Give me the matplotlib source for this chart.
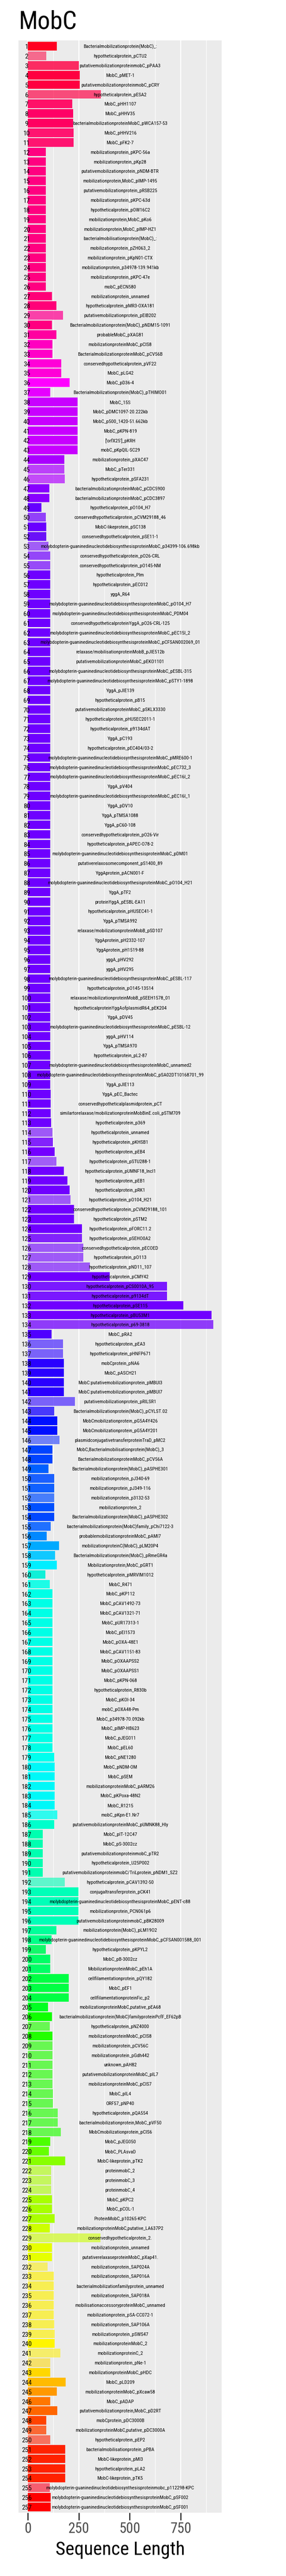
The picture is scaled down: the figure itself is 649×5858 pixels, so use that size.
import matplotlib
matplotlib.use('Agg')
import matplotlib.pyplot as plt
from matplotlib.colors import to_rgba
from matplotlib.font_manager import FontProperties

# tall, narrow sans like the reference
fam = 'Roboto Condensed'
plt.rcParams['font.family'] = [fam, 'DejaVu Sans']

# protein names, top to bottom
proteins = [
    "Bacterialmobilizationprotein(MobC)_:", "hypotheticalprotein_pCTU2",
    "putativemobilizationproteinmobC_pPAA3", "MobC_pMET-1",
    "putativemobilizationproteinmobC_pCRY", "hypotheticalprotein_pESA2",
    "MobC_pHH1107", "MobC_pHHV35", "bacterialmobilizationproteinMobC_pWCA157-53",
    "MobC_pHHV216", "MobC_pFK2-7", "mobilizationprotein_pKPC-56a",
    "mobilizationprotein_pKp28", "putativemobilizationprotein_pNDM-BTR",
    "mobilizationprotein,MobC_pIMP-1495", "putativemobilizationprotein_pRSB225",
    "mobilizationprotein_pKPC-63d", "hypotheticalprotein_pOW16C2",
    "mobilizationprotein,MobC_pKo6", "mobilizationprotein,MobC_pIMP-HZ1",
    "bacterialmobilisationprotein(MobC)_:", "mobilizationprotein_pZH063_2",
    "mobilizationprotein_pKpN01-CTX", "mobilizationprotein_p34978-139.941kb",
    "mobilizationprotein_pKPC-47e", "mobC_pECN580", "mobilizationprotein_unnamed",
    "hypotheticalprotein_pMR3-OXA181", "putativemobilizationprotein_pEIB202",
    "Bacterialmobilizationprotein(MobC)_pNDM15-1091", "probableMobC_pXAG81",
    "mobilizationproteinMobC_pCIS8", "BacterialmobilizationproteinMobC_pCV56B",
    "conservedhypotheticalprotein_pVF22", "MobC_pLG42", "MobC_pD36-4",
    "Bacterialmobilizationprotein(MobC)_pTHIMO01", "MobC_15S",
    "MobC_pDMC1097-20.222kb", "MobC_p500_1420-51.662kb", "MobC_pKPN-819",
    "['orfX25']_pKRH", "mobC_pKpQIL-SC29", "mobilizationprotein_pXAC47",
    "MobC_pTer331", "hypotheticalprotein_pSFA231",
    "bacterialmobilizationproteinMobC_pCDC5900",
    "bacterialmobilizationproteinMobC_pCDC3897", "hypotheticalprotein_pO104_H7",
    "conservedhypotheticalprotein_pCVM29188_46", "MobC-likeprotein_pSC138",
    "conservedhypotheticalprotein_pSE11-1",
    "molybdopterin-guaninedinucleotidebiosynthesisproteinMobC_p34399-106.698kb",
    "conservedhypotheticalprotein_pO26-CRL", "conservedhypotheticalprotein_pO145-NM",
    "hypotheticalprotein_Plm", "hypotheticalprotein_pEC012", "yggA_R64",
    "molybdopterin-guaninedinucleotidebiosynthesisproteinMobC_pO104_H7",
    "molybdopterin-guaninedinucleotidebiosynthesisproteinMobC_PDM04",
    "conservedhypotheticalproteinYggA_pO26-CRL-125",
    "molybdopterin-guaninedinucleotidebiosynthesisproteinMobC_pEC15I_2",
    "molybdopterin-guaninedinucleotidebiosynthesisproteinMobC_pCFSAN002069_01",
    "relaxase/mobilisationproteinMobB_pJIE512b",
    "putativemobilizationproteinMobC_pEKO1101",
    "molybdopterin-guaninedinucleotidebiosynthesisproteinMobC_pESBL-315",
    "molybdopterin-guaninedinucleotidebiosynthesisproteinMobC_pSTY1-1898",
    "YggA_pJIE139", "hypotheticalprotein_pB15",
    "putativemobilizationproteinMobC_pSKLX3330", "hypotheticalprotein_pHUSEC2011-1",
    "hypotheticalprotein_p9134dAT", "YggA_pC193", "hypotheticalprotein_pEC404/03-2",
    "molybdopterin-guaninedinucleotidebiosynthesisproteinMobC_pMRE600-1",
    "molybdopterin-guaninedinucleotidebiosynthesisproteinMobC_pEC732_3",
    "molybdopterin-guaninedinucleotidebiosynthesisproteinMobC_pEC16I_2",
    "YggA_pV404",
    "molybdopterin-guaninedinucleotidebiosynthesisproteinMobC_pEC16I_1",
    "YggA_pDV10", "YggA_pTMSA1088", "YggA_pC60-108",
    "conservedhypotheticalprotein_pO26-Vir", "hypotheticalprotein_pAPEC-O78-2",
    "molybdopterin-guaninedinucleotidebiosynthesisproteinMobC_pDM01",
    "putativerelaxosomecomponent_pS1400_89", "YggAprotein_pACN001-F",
    "molybdopterin-guaninedinucleotidebiosynthesisproteinMobC_pO104_H21",
    "YggA_pTF2", "proteinYggA_pESBL-EA11", "hypotheticalprotein_pHUSEC41-1",
    "YggA_pTMSA992", "relaxase/mobilizationproteinMobB_pSD107",
    "YggAprotein_pH2332-107", "YggAprotein_pH1519-88", "yggA_pHV292", "yggA_pHV295",
    "molybdopterin-guaninedinucleotidebiosynthesisproteinMobC_pESBL-117",
    "hypotheticalprotein_pO145-13514", "relaxase/mobilizationproteinMobB_pSEEH1578_01",
    "hypotheticalproteinYggAofplasmidR64_pEK204", "YggA_pDV45",
    "molybdopterin-guaninedinucleotidebiosynthesisproteinMobC_pESBL-12",
    "yggA_pHV114", "YggA_pTMSA970", "hypotheticalprotein_pL2-87",
    "molybdopterin-guaninedinucleotidebiosynthesisproteinMobC_unnamed2",
    "molybdopterin-guaninedinucleotidebiosynthesisproteinMobC_pSA02DT10168701_99",
    "YggA_pJIE113", "YggA_pEC_Bactec", "conservedhypotheticalplasmidprotein_pCT",
    "similartorelaxase/mobilizationproteinMobBinE.coli_pSTM709",
    "hypotheticalprotein_p369", "hypotheticalprotein_unnamed",
    "hypotheticalprotein_pKHSB1", "hypotheticalprotein_pEB4",
    "hypotheticalprotein_pSTU288-1", "hypotheticalprotein_pUMNF18_IncI1",
    "hypotheticalprotein_pEB1", "hypotheticalprotein_pRK1",
    "hypotheticalprotein_pO104_H21", "conservedhypotheticalprotein_pCVM29188_101",
    "hypotheticalprotein_pSTM2", "hypotheticalprotein_pFORC11.2",
    "hypotheticalprotein_pSEHO0A2", "conservedhypotheticalprotein_pECOED",
    "hypotheticalprotein_pO113", "hypotheticalprotein_pND11_107",
    "hypotheticalprotein_pCMY42", "hypotheticalprotein_pCS0010A_95",
    "hypotheticalprotein_p9134dT", "hypotheticalprotein_pSE115",
    "hypotheticalprotein_pBU53M1", "hypotheticalprotein_p69-3818", "MobC_pRA2",
    "hypotheticalprotein_pEA3", "hypotheticalprotein_pHNFP671", "mobCprotein_pNA6",
    "MobC_pASCH21", "MobC:putativemobilizationprotein_pMBUI3",
    "MobC:putativemobilizationprotein_pMBUI7", "putativemobilizationprotein_pRILSR1",
    "Bacterialmobilizationprotein(MobC)_pCYLST.02",
    "MobCmobilizationprotein_pG5A4Y426", "MobCmobilizationprotein_pG5A4Y201",
    "plasmidconjugativetransferproteinTraD_pMC2",
    "MobC,Bacterialmobilisationprotein(MobC)_3",
    "BacterialmobilizationproteinMobC_pCV56A",
    "Bacterialmobilizationprotein(MobC)_pASPHE301", "mobilizationprotein_pJ340-69",
    "mobilizationprotein_pJ349-116", "mobilizationprotein_p3132-53",
    "mobilizationprotein_2", "Bacterialmobilizationprotein(MobC)_pASPHE302",
    "bacterialmobilizationprotein(MobC)family_pChi7122-3",
    "probablemobilizationproteinMobC_pAMI7", "mobilizationproteinC(MobC)_pLM20P4",
    "Bacterialmobilizationprotein(MobC)_pRmeGR4a", "Mobilizationprotein,MobC_pGRT1",
    "hypotheticalprotein_pMRVIM1012", "MobC_R471", "MobC_pKP112",
    "MobC_pCAV1492-73", "MobC_pCAV1321-71", "MobC_pUR17313-1", "MobC_pEI1573",
    "MobC_pOXA-48E1", "MobC_pCAV1151-83", "MobC_pOXAAPSS2", "MobC_pOXAAPSS1",
    "MobC_pKPN-068", "hypotheticalprotein_R830b", "MobC_pKOI-34", "mobC_pOXA48-Pm",
    "MobC_p34978-70.092kb", "MobC_pIMP-HB623", "MobC_pJEG011", "MobC_pEL60",
    "MobC_pNE1280", "MobC_pNDM-OM", "MobC_pSEM", "mobilizationproteinMobC_pARM26",
    "MobC_pKPoxa-48N2", "MobC_R1215", "mobC_pKpn-E1.Nr7",
    "putativemobilizationproteinMobC_pUMNK88_Hly", "MobC_pIT-12C47",
    "MobC_pS-3002cz", "putativemobilizationproteinmobC_pTR2",
    "hypotheticalprotein_U25P002",
    "putativemobilizationproteinmobC/TriLprotein_pNDM1_SZ2",
    "hypotheticalprotein_pCAV1392-50", "conjugaltransferprotein_pCK41",
    "molybdopterin-guaninedinucleotidebiosynthesisproteinMobC_pENT-c88",
    "mobilizationprotein_PCN061p6", "putativemobilizationproteinmobC_pBK28009",
    "mobilizationprotein(MobC)_pLM19O2",
    "molybdopterin-guaninedinucleotidebiosynthesisproteinMobC_pCFSAN001588_001",
    "hypotheticalprotein_pKPYL2", "MobC_pB-3002cz", "MobilizationproteinMobC_pEh1A",
    "cellfilamentationprotein_pQY182", "MobC_pEF1", "cellfilamentationproteinFic_p2",
    "mobilizationproteinMobC,putative_pEA68",
    "bacterialmobilizationprotein(MobC)familyproteinPcfF_EF62pB",
    "hypotheticalprotein_pNZ4000", "mobilizationproteinMobC_pCIS8",
    "mobilizationprotein_pCV56C", "mobilizationprotein_pGdh442", "unknown_pAH82",
    "putativemobilizationproteinMobC_pIL7", "mobilizationproteinMobC_pCIS7",
    "MobC_pIL4", "ORF57_pNP40", "hypotheticalprotein_pQA554",
    "bacterialmobilizationprotein,MobC_pVF50", "MobCmobilizationprotein_pCIS6",
    "MobC_pJEG050", "MobC_PLAsvaD", "MobC-likeprotein_pTK2", "proteinmobC_2",
    "proteinmobC_3", "proteinmobC_4", "MobC_pKPC2", "MobC_pCOL-1",
    "ProteinMobC_p10265-KPC", "mobilizationproteinMobC,putative_LA637P2",
    "conservedhypotheticalprotein_2.", "mobilizationprotein_unnamed",
    "putativerelaxaseproteinMobC_pXap41.", "mobilizationprotein_SAP024A",
    "mobilizationprotein_SAP016A", "bacterialmobilizationfamilyprotein_unnamed",
    "mobilizationprotein_SAP018A", "mobilisationaccessoryproteinMobC_unnamed",
    "mobilizationprotein_pSA-CC072-1", "mobilizationprotein_SAP106A",
    "mobilizationprotein_pSWS47", "mobilizationproteinMobC_2",
    "mobilizationproteinC_2", "mobilizationprotein_pNe-1",
    "mobilizationproteinMobC_pHDC", "MobC_pLD209", "mobilizationproteinMobC_pXcaw58",
    "MobC_pADAP", "putativemobilizationprotein,MobC_pD2RT", "mobCprotein_pDC3000B",
    "mobilizationproteinMobC,putative_pDC3000A", "hypotheticalprotein_pEP2",
    "bacterialmobilisationprotein_pPBA", "MobC-likeprotein_pMI3",
    "hypotheticalprotein_pLA2", "MobC-likeprotein_pTK5",
    "molybdopterin-guaninedinucleotidebiosynthesisproteinmobc_p112298-KPC",
    "molybdopterin-guaninedinucleotidebiosynthesisproteinMobC_pSF002",
    "molybdopterin-guaninedinucleotidebiosynthesisproteinMobC_pSF001",
]

# sequence length of each protein (aa), same order
seq_length = [
    144, 92, 250, 256, 256, 358, 219, 223, 223, 224,
    224, 89, 89, 89, 89, 89, 89, 89, 89, 89,
    89, 89, 89, 89, 89, 89, 120, 140, 174, 120,
    140, 122, 122, 165, 165, 206, 111, 244, 244, 244,
    244, 244, 244, 179, 179, 181, 106, 106, 68, 89,
    92, 92, 103, 111, 111, 111, 111, 111, 111, 111,
    111, 111, 111, 111, 111, 111, 111, 111, 111, 111,
    111, 111, 111, 111, 111, 111, 111, 111, 111, 111,
    111, 111, 111, 111, 111, 111, 111, 111, 111, 111,
    111, 111, 111, 111, 111, 111, 111, 111, 111, 111,
    111, 111, 111, 111, 111, 111, 111, 111, 111, 113,
    113, 113, 115, 122, 124, 132, 141, 178, 195, 206,
    209, 228, 228, 266, 266, 273, 273, 304, 403, 683,
    683, 763, 900, 908, 117, 173, 173, 178, 178, 178,
    178, 232, 131, 145, 145, 155, 122, 122, 101, 131,
    131, 131, 131, 131, 113, 94, 153, 134, 143, 87,
    108, 122, 122, 122, 122, 122, 122, 122, 122, 122,
    122, 122, 122, 122, 122, 122, 122, 122, 129, 132,
    132, 132, 132, 132, 145, 131, 73, 73, 73, 73,
    73, 181, 249, 249, 249, 249, 141, 117, 89, 111,
    111, 202, 202, 202, 99, 119, 108, 122, 122, 122,
    122, 122, 122, 124, 124, 148, 148, 162, 110, 104,
    185, 115, 115, 115, 119, 119, 132, 108, 357, 120,
    120, 98, 127, 127, 127, 127, 127, 129, 132, 132,
    160, 110, 111, 186, 143, 110, 146, 92, 92, 111,
    185, 185, 185, 185, 108, 113, 113,
]

# fill colour runs (colour, alpha, number of bars)
fill_runs = [
    ('#FF0022', 1, 1), ('#FF0040', 0.55, 1), ('#FF0044', 0.82, 1), ('#FF0040', 1, 2),
    ('#FF0044', 0.68, 1), ('#FF1068', 1, 1), ('#FF0066', 1, 1), ('#FF0060', 1, 1),
    ('#FF1470', 1, 2), ('#FF0080', 1, 15), ('#FF0078', 1, 2), ('#FF0090', 0.72, 1),
    ('#FF0080', 1, 1), ('#FF00A0', 1, 1), ('#FF00C0', 1, 1), ('#FF00C8', 1, 1),
    ('#FF00D8', 1, 2), ('#FF00FF', 1, 1), ('#E600FF', 1, 1), ('#C800FF', 1, 6),
    ('#AA00FF', 1, 1), ('#AA00FF', 0.72, 1), ('#B000FF', 0.68, 1), ('#8800FF', 1, 2),
    ('#6600FF', 1, 1), ('#7000FF', 0.72, 1), ('#6A00FF', 1, 1), ('#6A10F8', 1, 1),
    ('#7000FF', 0.6, 1), ('#7000FF', 0.7, 1), ('#7000FF', 0.68, 1), ('#6E00FF', 1, 58),
    ('#7000FF', 0.62, 1), ('#7000FF', 0.85, 1), ('#7400FF', 1, 1), ('#7000FF', 0.6, 1),
    ('#7000FF', 1, 3), ('#7000FF', 0.62, 1), ('#7000FF', 1, 3), ('#7000FF', 0.85, 1),
    ('#7000FF', 0.62, 3), ('#7000FF', 1, 1), ('#7A18FF', 1, 2), ('#7000FF', 1, 2),
    ('#7000FF', 0.75, 1), ('#5000FF', 1, 1), ('#4A28FF', 0.7, 2), ('#2A00FF', 1, 4),
    ('#4A28FF', 0.7, 1), ('#3020FF', 0.88, 1), ('#0010FF', 1, 2), ('#2E48FF', 0.65, 1),
    ('#0044FF', 1, 2), ('#0060FF', 1, 1), ('#1A60FF', 1, 1), ('#1060FF', 1, 1),
    ('#1A60FF', 0.78, 1), ('#0050FF', 1, 1), ('#0048FF', 1, 1), ('#2070FF', 1, 1),
    ('#0088FF', 1, 1), ('#00AAFF', 1, 1), ('#10C8FF', 1, 1), ('#00EEFF', 1, 1),
    ('#10F0D8', 1, 1), ('#00FFE6', 0.88, 1), ('#00FFE6', 1, 17), ('#00FFEE', 1, 1),
    ('#00F8F8', 1, 5), ('#00FFF0', 0.8, 1), ('#00FFCC', 1, 1), ('#00FFB0', 1, 5),
    ('#00FFB8', 0.6, 1), ('#00FFB8', 1, 4), ('#00FF9A', 1, 1), ('#00FF88', 1, 1),
    ('#12F86A', 1, 1), ('#00FF66', 1, 2), ('#00FF44', 1, 3), ('#00FF22', 1, 1),
    ('#11FF00', 1, 1), ('#22FF00', 0.65, 1), ('#22FF00', 1, 1), ('#22FF00', 0.65, 10),
    ('#4CFF00', 1, 1), ('#66FF00', 1, 1), ('#88FF00', 1, 1), ('#AAFF00', 0.6, 3),
    ('#A8FF00', 1, 2), ('#AAFF00', 1, 1), ('#CCFF00', 1, 1), ('#CCFF00', 0.6, 1),
    ('#E6FF00', 1, 2), ('#FFF000', 0.55, 1), ('#FFF000', 0.65, 7), ('#FFF500', 1, 1),
    ('#FFF000', 0.55, 1), ('#FFD700', 0.55, 1), ('#FFD700', 1, 1), ('#FFBB00', 1, 1),
    ('#FF9900', 1, 1), ('#FF7700', 1, 1), ('#FF6600', 1, 1), ('#FF4400', 1, 1),
    ('#FF4400', 0.78, 1), ('#FF2200', 0.6, 1), ('#FF2200', 1, 4), ('#FF0020', 0.6, 1),
    ('#FF0000', 1, 2),
]

bar_colors = []
for col, alpha, n in fill_runs:
    bar_colors += [to_rgba(col, alpha)] * n

rows = list(range(1, len(proteins) + 1))

fig = plt.figure(figsize=(6.49, 58.58), dpi=100)
renderer = fig.canvas.get_renderer()


def fit_size(sample, target_px, max_size):
    # font size whose rendered width matches the reference width (in pixels)
    w, _, _ = renderer.get_text_width_height_descent(
        sample, FontProperties(family=fam, size=10), ismath=False)
    return min(max_size, 10 * target_px / w)


label_fs = fit_size(proteins[107], 378, 10)
num_fs = fit_size('100', 22.5, 14)
tick_fs = fit_size('750', 48, 25)
xlab_fs = fit_size('Sequence Length', 292, 33)

ax = fig.add_axes([42 / 649, 1 - 5714 / 5858, 461.3 / 649, 5622 / 5858])
ax.set_facecolor('#EBEBEB')
for s in ax.spines.values():
    s.set_visible(False)

ax.barh(rows, seq_length, height=0.9, color=bar_colors, zorder=2)

for r, name in zip(rows, proteins):
    ax.text(453, r + 0.05, name, ha='center', va='center', fontsize=label_fs,
            color='black', zorder=3)
    ax.text(-5, r + 0.1, str(r), ha='center', va='center', fontsize=num_fs,
            color='black', zorder=3)

ax.set_xlim(-44.7, 950.6)
ax.set_ylim(len(proteins) + 0.6, 0.4)
ax.set_xticks([0, 250, 500, 750])
ax.set_xticks([125, 375, 625, 875], minor=True)
ax.set_yticks([])
ax.grid(True, axis='x', which='major', color='white', linewidth=1.6, zorder=0)
ax.grid(True, axis='x', which='minor', color='white', linewidth=0.8, zorder=0)
ax.set_axisbelow(True)
ax.tick_params(axis='x', which='major', length=12, width=2, color='#333333',
               labelsize=tick_fs, labelcolor='#4D4D4D', pad=3)
ax.tick_params(axis='x', which='minor', length=0)
ax.set_xlabel('Sequence Length', fontsize=xlab_fs, labelpad=8)

fig.text(43 / 649, 1 - 65 / 5858, 'MobC', fontsize=41, ha='left', va='baseline')

fig.savefig('out.png', dpi=100)
